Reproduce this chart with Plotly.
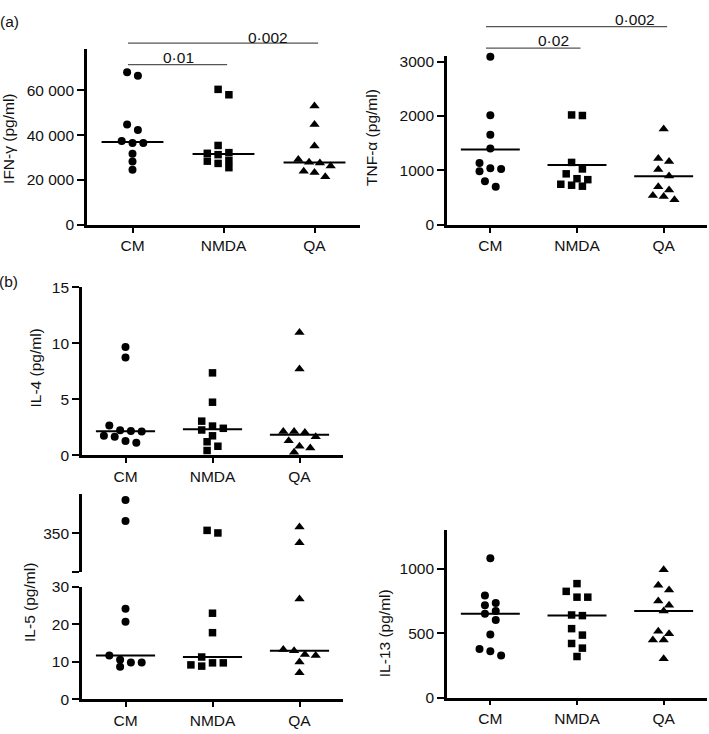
import plotly.graph_objects as go
import numpy as np

W, H = 709, 734
FONT = "Liberation Sans, Arial, sans-serif"

# ---------------- data ----------------
categories = ["CM", "NMDA", "QA"]

ifn_cm = [68000, 66500, 44700, 42300, 37400, 36500, 36500, 31700, 28200, 24600]
ifn_nmda = [60400, 58000, 35400, 32200, 31900, 31300, 28700, 28400, 27400, 25500]
ifn_qa = [53000, 44700, 35200, 29100, 27900, 27600, 26200, 23900, 23300, 21400]

tnf_cm = [3090, 2014, 1656, 1405, 1136, 1040, 1028, 986, 801, 699]
tnf_nmda = [2020, 2010, 1148, 1028, 938, 849, 831, 747, 729, 711]
tnf_qa = [1763, 1219, 1166, 1016, 897, 699, 640, 538, 520, 460]

il4_cm = [9.67, 8.74, 2.68, 2.24, 2.18, 2.13, 1.75, 1.66, 1.28, 1.14]
il4_nmda = [7.37, 4.75, 3.06, 2.62, 2.42, 2.27, 1.75, 1.22, 0.82, 0.44]
il4_qa = [10.98, 7.72, 2.13, 2.13, 2.04, 1.66, 1.31, 0.82, 0.67, 0.29]

il5_cm = [392.6, 365.7, 24.2, 20.7, 11.7, 10.6, 9.83, 9.83, 8.7]
il5_nmda = [353.7, 350.4, 23.0, 17.8, 11.3, 9.74, 9.74, 9.2, 8.87]
il5_qa = [357.9, 338.0, 26.8, 13.3, 13.0, 12.0, 11.7, 10.0, 7.13]

il13_cm = [1080, 791, 734, 716, 671, 651, 603, 490, 377, 359, 327]
il13_nmda = [884, 824, 779, 779, 641, 636, 535, 485, 420, 384, 319]
il13_qa = [992, 872, 834, 749, 716, 671, 515, 495, 447, 447, 302]

ifn_ticks = [0, 20000, 40000, 60000]
ifn_ticktext = ["0", "20 000", "40 000", "60 000"]
tnf_ticks = [0, 1000, 2000, 3000]
tnf_ticktext = ["0", "1000", "2000", "3000"]
il4_ticks = [0, 5, 10, 15]
il4_ticktext = ["0", "5", "10", "15"]
il5_low_ticks = [0, 10, 20, 30]
il5_low_ticktext = ["0", "10", "20", "30"]
il5_high_ticks = [300, 350]
il5_high_ticktext = ["", "350"]
il13_ticks = [0, 500, 1000]
il13_ticktext = ["0", "500", "1000"]

ifn_sig = [("CM", "NMDA", "0·01"), ("CM", "QA", "0·002")]
tnf_sig = [("CM", "NMDA", "0·02"), ("CM", "QA", "0·002")]

# ---------------- layout geometry (pixels) ----------------
symbols = ["circle", "square", "triangle-up"]
msize = {"circle": 8, "square": 7.5, "triangle-up": 9}
XR = (-0.5, 2.5)

panels = [
    dict(name="ifn", xa="x", ya="y", px=(87, 360), py=(40.7, 221), yr=(0, 78500),
         groups=[ifn_cm, ifn_nmda, ifn_qa], stat="median",
         ticks=ifn_ticks, ticktext=ifn_ticktext),
    dict(name="tnf", xa="x2", ya="y2", px=(447, 707), py=(48.3, 221), yr=(0, 3100),
         groups=[tnf_cm, tnf_nmda, tnf_qa], stat="mean",
         ticks=tnf_ticks, ticktext=tnf_ticktext),
    dict(name="il4", xa="x3", ya="y3", px=(82, 343), py=(285, 457), yr=(0, 15),
         groups=[il4_cm, il4_nmda, il4_qa], stat="median",
         ticks=il4_ticks, ticktext=il4_ticktext),
    dict(name="il5", xa="x4", ya="y4", px=(82, 343), py=(591.7, 706.7), yr=(0, 30),
         groups=[il5_cm, il5_nmda, il5_qa], stat="median",
         ticks=il5_low_ticks, ticktext=il5_low_ticktext,
         upper=dict(ya="y5", py=(496.7, 576.7), yr=(300, 400),
                    ticks=il5_high_ticks, ticktext=il5_high_ticktext)),
    dict(name="il13", xa="x5", ya="y6", px=(447, 707), py=(533.3, 705), yr=(0, 1300),
         groups=[il13_cm, il13_nmda, il13_qa], stat="median",
         ticks=il13_ticks, ticktext=il13_ticktext),
]


def swarm_offsets(values, ppu, ppc, diam=7.8, step=10.8):
    n = len(values)
    order = sorted(range(n), key=lambda i: -values[i])
    rows = []
    for i in order:
        y = values[i] * ppu
        if rows and rows[-1][0][1] - y < diam:
            rows[-1].append((i, y))
        else:
            rows.append([(i, y)])
    placed = []
    offs = [0.0] * n
    for row in rows:
        k = len(row)
        base = [(j - (k - 1) / 2) * step for j in range(k)]
        chosen = 0.0
        for shift in (0, -0.5, 0.5, -1, 1, -1.5, 1.5, -2, 2):
            sh = shift * step
            ok = all((b + sh - qx) ** 2 + (y - qy) ** 2 >= (diam * 0.92) ** 2
                     for b, (i, y) in zip(base, row) for qx, qy in placed)
            if ok:
                chosen = sh
                break
        for b, (i, y) in zip(base, row):
            offs[i] = (b + chosen) / ppc
            placed.append((b + chosen, y))
    return offs


fig = go.Figure()
layout = {}


def axis_common():
    return dict(showline=True, linecolor="black", linewidth=2.6, ticks="outside",
                tickwidth=2.4, tickcolor="black", showgrid=False, zeroline=False,
                tickfont=dict(family=FONT, size=15.5, color="#111111"), fixedrange=True)


for p in panels:
    x0, x1 = p["px"]
    yt, yb = p["py"]
    ppc = (x1 - x0) / (XR[1] - XR[0])
    ppu = (yb - yt) / (p["yr"][1] - p["yr"][0])
    xkey = "xaxis" + p["xa"][1:]
    ykey = "yaxis" + p["ya"][1:]
    xa = axis_common()
    xa.update(domain=[x0 / W, x1 / W], range=list(XR), anchor=p["ya"],
              tickvals=[0, 1, 2], ticktext=categories, ticklen=5)
    ya = axis_common()
    ya.update(domain=[1 - yb / H, 1 - yt / H], range=list(p["yr"]), anchor=p["xa"],
              tickvals=p["ticks"], ticktext=p["ticktext"], ticklen=7)
    layout[xkey] = xa
    layout[ykey] = ya
    up = p.get("upper")
    if up:
        ya2 = axis_common()
        ya2.update(domain=[1 - up["py"][1] / H, 1 - up["py"][0] / H], range=list(up["yr"]),
                   anchor=p["xa"], tickvals=up["ticks"], ticktext=up["ticktext"], ticklen=7)
        layout["yaxis" + up["ya"][1:]] = ya2
        ppu_up = (up["py"][1] - up["py"][0]) / (up["yr"][1] - up["yr"][0])

    for ci, vals in enumerate(p["groups"]):
        sym = symbols[ci]
        if up:
            low = [v for v in vals if v <= p["yr"][1]]
            high = [v for v in vals if v > p["yr"][1]]
            sets = [(low, p["ya"], ppu), (high, up["ya"], ppu_up)]
        else:
            sets = [(vals, p["ya"], ppu)]
        for sv, yax, pu in sets:
            if not sv:
                continue
            offs = swarm_offsets(sv, pu, ppc)
            fig.add_trace(go.Scatter(
                x=[ci + o for o in offs], y=sv, mode="markers", xaxis=p["xa"], yaxis=yax,
                marker=dict(symbol=sym, size=msize[sym], color="black", line=dict(width=0)),
                cliponaxis=False, showlegend=False, hoverinfo="skip"))
        center = float(np.median(vals)) if p["stat"] == "median" else float(np.mean(vals))
        fig.add_trace(go.Scatter(
            x=[ci - 0.34, ci + 0.34], y=[center, center], mode="lines",
            xaxis=p["xa"], yaxis=p["ya"], line=dict(color="black", width=2),
            showlegend=False, hoverinfo="skip"))


def cat_to_paper(p, c):
    x0, x1 = p["px"]
    return (x0 + (c - XR[0]) / (XR[1] - XR[0]) * (x1 - x0)) / W


shapes = []
annotations = []

# significance brackets
sig_specs = [
    (panels[0], ifn_sig, [57, 35], [(0.5, 50), (1.49, 29)]),
    (panels[1], tnf_sig, [40, 18], [(0.73, 32.5), (1.67, 11)]),
]
for p, sigs, ypx, tpos in sig_specs:
    for (a, b, txt), yl, (tx, ty) in zip(sigs, ypx, tpos):
        ia, ib = categories.index(a), categories.index(b)
        shapes.append(dict(type="line", xref="paper", yref="paper",
                           x0=cat_to_paper(p, ia - 0.05), x1=cat_to_paper(p, ib + 0.04),
                           y0=1 - yl / H, y1=1 - yl / H,
                           line=dict(color="#555555", width=1.2)))
        annotations.append(dict(text=txt, xref="paper", yref="paper",
                                x=cat_to_paper(p, tx), y=1 - ty / H,
                                xanchor="center", yanchor="middle", showarrow=False,
                                font=dict(family=FONT, size=15.5, color="#111111")))

# y-axis titles
ytitles = [("IFN-γ (pg/ml)", 9, 133), ("TNF-α (pg/ml)", 372, 132),
           ("IL-4 (pg/ml)", 35, 368), ("IL-5 (pg/ml)", 30, 607),
           ("IL-13 (pg/ml)", 384, 639)]
for txt, xp, yp in ytitles:
    annotations.append(dict(text=txt, xref="paper", yref="paper", x=xp / W, y=1 - yp / H,
                            xanchor="center", yanchor="middle", textangle=-90,
                            showarrow=False,
                            font=dict(family=FONT, size=15.5, color="#111111")))

# panel letters
for txt, xp, yp in [("(a)", 9, 12.5), ("(b)", 8, 279)]:
    annotations.append(dict(text=txt, xref="paper", yref="paper", x=xp / W, y=1 - yp / H,
                            xanchor="center", yanchor="middle", showarrow=False,
                            font=dict(family=FONT, size=15.5, color="#111111")))

fig.update_layout(width=W, height=H, margin=dict(l=0, r=0, t=0, b=0), autosize=False,
                  paper_bgcolor="white", plot_bgcolor="white", showlegend=False,
                  shapes=shapes, annotations=annotations, **layout)

fig.write_html("out.html", config={"displayModeBar": False},
               post_script="document.body.style.margin='0px';")
